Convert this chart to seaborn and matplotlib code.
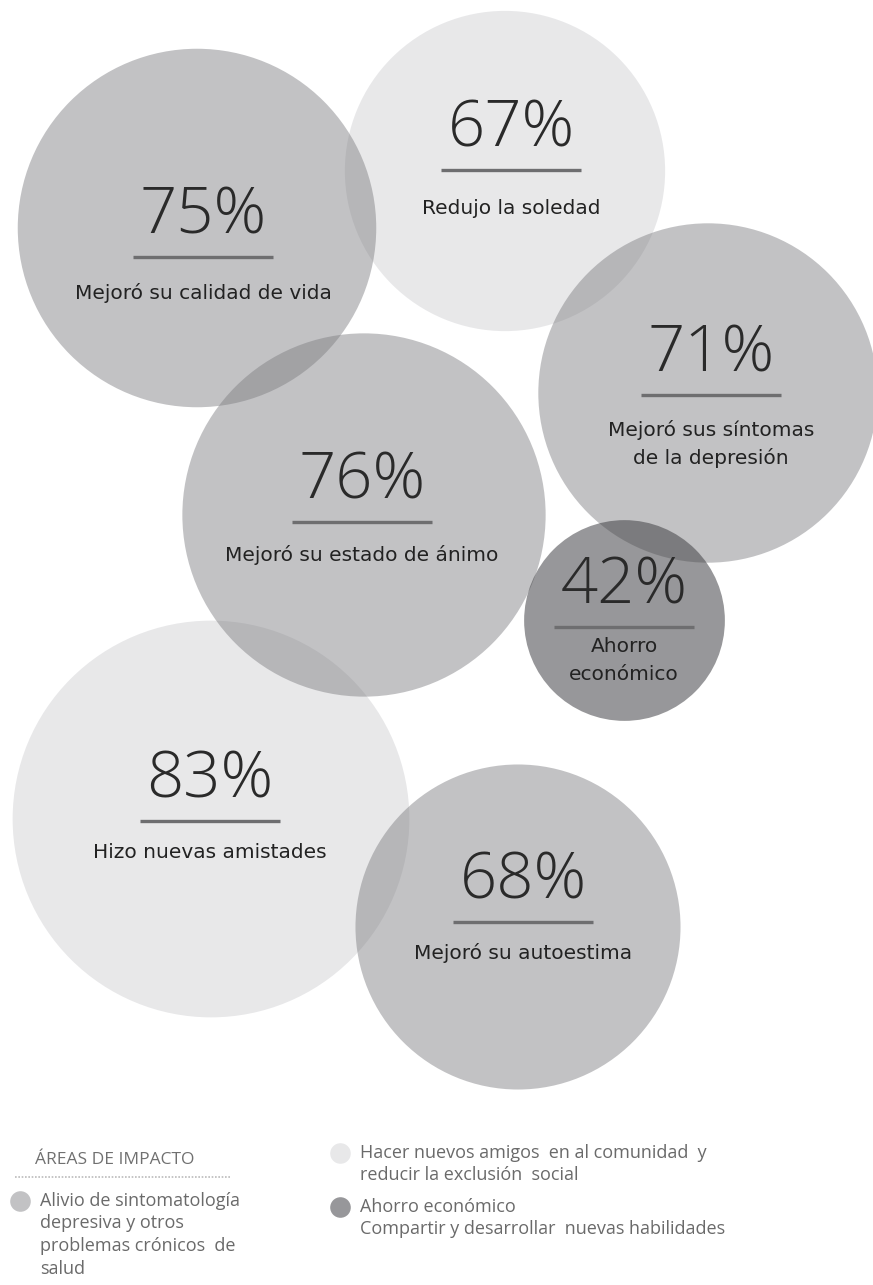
import matplotlib
matplotlib.use("Agg")
import matplotlib.pyplot as plt
import seaborn as sns
import pandas as pd

# ---- data ----
values = [75, 67, 71, 76, 42, 83, 68]
labels = ["Mejoró su calidad de vida", "Redujo la soledad",
          "Mejoró sus síntomas\nde la depresión", "Mejoró su estado de ánimo",
          "Ahorro\neconómico", "Hizo nuevas amistades", "Mejoró su autoestima"]
areas = ["salud", "social", "salud", "salud", "ahorro", "social", "salud"]

legend_title = "ÁREAS DE IMPACTO"
legend_texts = {
    "salud": "Alivio de sintomatología\ndepresiva y otros\nproblemas crónicos  de\nsalud",
    "social": "Hacer nuevos amigos  en al comunidad  y\nreducir la exclusión  social",
    "ahorro": "Ahorro económico\nCompartir y desarrollar  nuevas habilidades",
}

# ---- layout (pixel space) ----
cx = [197, 505, 708, 364, 624, 211, 518]
cy = [228, 171, 393, 515, 620, 819, 927]
text_x = [203, 511, 711, 362, 624, 210, 523]
rule_y = [257, 170, 395, 522, 627, 821, 922]
label_gap = [36, 38, 35, 33, 20, 32, 31]
px_per_pct = 2.39

styles = {  # color, alpha
    "salud": ("#7e7e82", 0.47),
    "social": ("#80808a", 0.18),
    "ahorro": ("#404044", 0.54),
}

W, H = 873, 1285
fig = plt.figure(figsize=(W / 100, H / 100), dpi=100)
ax = fig.add_axes([0, 0, 1, 1])
sns.set_style("white")
plt.rcParams['font.family'] = ['DejaVu Sans']

df = pd.DataFrame({"x": cx, "y": cy, "value": values, "area": areas, "label": labels,
                   "tx": text_x, "ry": rule_y, "lg": label_gap})
# marker area in points^2 so that radius (px) = value * px_per_pct
df["s"] = (2 * df["value"] * px_per_pct * 72 / 100) ** 2

for key in ["social", "salud", "ahorro"]:
    sub = df[df["area"] == key]
    col, a = styles[key]
    sns.scatterplot(data=sub, x="x", y="y", size="value",
                    sizes={v: s for v, s in zip(sub["value"], sub["s"])},
                    color=col, alpha=a, linewidth=0, legend=False, ax=ax, zorder=1)

for _, r in df.iterrows():
    tx, uy, v = r["tx"], r["ry"], r["value"]
    ax.text(tx, uy - 40, f"{v}%", ha="center", va="center", fontsize=47,
            family=["Open Sans", "DejaVu Sans"], fontweight="light",
            color="#2a2a2a", zorder=3)
    ax.plot([tx - 70, tx + 70], [uy, uy], color="#6e6e70", lw=2.4,
            solid_capstyle="butt", zorder=3)
    for i, line in enumerate(r["label"].split("\n")):
        ax.text(tx, uy + r["lg"] + i * 28, line, ha="center", va="center",
                fontsize=14.5, color="#222222", zorder=3)

# ---- legend ----
leg_font = ["Open Sans", "DejaVu Sans"]
ax.text(35, 1160, legend_title, ha="left", va="center", fontsize=12.5,
        family=leg_font, color="#707070")
ax.plot([15, 230], [1177, 1177], color="#bbbbbb", lw=1.2, ls=(0, (1, 1)))
leg_pos = {"salud": (20, 1201, 40), "social": (340, 1153, 360), "ahorro": (340, 1207, 360)}
leg_df = pd.DataFrame({"x": [leg_pos[k][0] for k in leg_pos],
                       "y": [leg_pos[k][1] for k in leg_pos],
                       "area": list(leg_pos.keys())})
for key in leg_pos:
    col, a = styles[key]
    sns.scatterplot(data=leg_df[leg_df["area"] == key], x="x", y="y", s=220,
                    color=col, alpha=a, linewidth=0, legend=False, ax=ax)
    mx, my, tx = leg_pos[key]
    for i, line in enumerate(legend_texts[key].split("\n")):
        ax.text(tx, my + i * 22.5, line, ha="left", va="center", fontsize=13,
                family=leg_font, color="#6a6a6a")

ax.set_xlim(0, W)
ax.set_ylim(H, 0)
ax.set_axis_off()
fig.savefig("out.png", dpi=100, facecolor="white")
